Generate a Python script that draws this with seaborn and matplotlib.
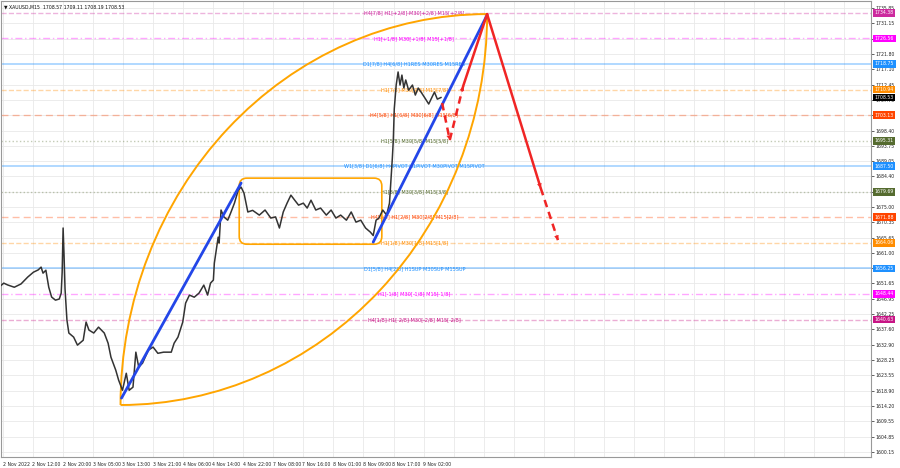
import matplotlib
matplotlib.use("Agg")
import matplotlib.pyplot as plt
import matplotlib.transforms as mtransforms
from matplotlib.patches import Arc, FancyBboxPatch
import pandas as pd
import seaborn as sns

# XAUUSD M15 closes (x = bar index from the left edge)
bar_idx = [0, 3, 7, 14, 21, 28, 34, 39, 42, 44, 47, 50, 53, 57, 61, 63, 64, 65, 66, 67,
           69, 71, 76, 80, 86, 89, 92, 97, 102, 108, 112, 115, 120, 123, 127, 131, 134, 138,
           141, 144, 148, 154, 159, 164, 170, 178, 181, 185, 190, 193, 197, 202, 207, 212,
           216, 219, 222, 223, 227, 228, 230, 233, 237, 240, 244, 248, 251, 254, 258, 263,
           270, 276, 282, 287, 291, 295, 299, 303, 307, 311, 316, 320, 324, 329, 334, 340,
           345, 350, 355, 361, 366, 371, 376, 381, 386, 389, 392, 395, 399, 403, 406, 409,
           410, 411, 413, 415, 417, 419, 421, 423, 426, 430, 433, 436, 439, 443, 447, 450,
           453, 456, 460]
close = [1651.0, 1651.75, 1651.2, 1650.5, 1651.5, 1653.6, 1655.1, 1655.8, 1656.65, 1654.8,
         1655.7, 1650.5, 1647.5, 1646.55, 1646.9, 1648.7, 1655.0, 1668.6, 1660.0, 1650.0,
         1640.45, 1636.5, 1635.25, 1632.8, 1634.3, 1639.85, 1637.4, 1636.5, 1638.3, 1636.5,
         1633.4, 1629.1, 1625.15, 1622.1, 1619.0, 1624.2, 1619.0, 1619.95, 1630.65, 1626.1,
         1627.3, 1631.25, 1632.2, 1630.3, 1630.65, 1630.65, 1633.4, 1635.25, 1639.85, 1645.65,
         1648.1, 1647.45, 1648.7, 1651.15, 1648.1, 1651.75, 1652.7, 1657.85, 1665.8, 1664.0,
         1674.1, 1672.0, 1671.0, 1673.15, 1676.2, 1680.2, 1681.1, 1679.25, 1673.5, 1674.0,
         1672.55, 1674.1, 1671.65, 1672.0, 1668.6, 1673.5, 1676.2, 1678.65, 1677.1, 1675.6,
         1676.2, 1674.7, 1677.1, 1674.1, 1674.7, 1672.55, 1674.1, 1671.65, 1672.55, 1671.0,
         1673.5, 1670.4, 1671.0, 1668.6, 1667.35, 1666.3, 1671.0, 1671.65, 1674.1, 1672.55,
         1676.2, 1690.0, 1695.5, 1705.0, 1712.3, 1716.3, 1712.3, 1715.35, 1711.4, 1713.85,
         1710.75, 1712.3, 1709.25, 1711.4, 1710.15, 1708.35, 1706.5, 1708.35, 1710.15, 1708.0,
         1708.53]

# Murrey math levels
level_price = [1734.38, 1726.56, 1718.75, 1710.94, 1703.13, 1695.31, 1687.50,
               1679.69, 1671.88, 1664.06, 1656.25, 1648.44, 1640.63]
level_text = [
    "H4[7/8] H1[+2/8] M30[+2/8] M15[+2/8]",
    "H1[+1/8] M30[+1/8] M15[+1/8]",
    "D1[7/8] H4[6/8] H1RES M30RES M15RES",
    "H1[7/8] M30[7/8] M15[7/8]",
    "H4[5/8] H1[6/8] M30[6/8] M15[6/8]",
    "H1[5/8] M30[5/8] M15[5/8]",
    "W1[3/8] D1[6/8] H4PIVOT H1PIVOT M30PIVOT M15PIVOT",
    "H1[3/8] M30[3/8] M15[3/8]",
    "H4[3/8] H1[2/8] M30[2/8] M15[2/8]",
    "H1[1/8] M30[1/8] M15[1/8]",
    "D1[5/8] H4[2/8] H1SUP M30SUP M15SUP",
    "H1[-1/8] M30[-1/8] M15[-1/8]",
    "H4[1/8] H1[-2/8] M30[-2/8] M15[-2/8]",
]
level_color = ["#CC2A9E", "#FF00FF", "#1E90FF", "#FF8C00", "#FF4500", "#556B2F", "#1E90FF",
               "#556B2F", "#FF4500", "#FF8C00", "#1E90FF", "#FF00FF", "#C71585"]
last_price = 1708.53

# drawn objects (bar index, price)
trend1_bar = [126, 251]
trend1_price = [1616.6, 1682.35]
trend2_bar = [389, 508]
trend2_price = [1664.3, 1733.7]
path_bar = [461, 469, 483, 508, 564, 582]
path_price = [1706.8, 1695.5, 1712.0, 1734.0, 1680.8, 1664.9]
path_dashed = [True, True, False, False, True]
path_head = [True, True, False, True, True]
box_bar = [249, 398]
box_price = [1663.65, 1683.85]
arc_start = (125, 1614.5)
arc_apex = (508, 1734.0)

y_ticks = [1735.85, 1731.15, 1726.50, 1721.80, 1717.10, 1712.45, 1707.75, 1703.05,
           1698.40, 1693.75, 1689.05, 1684.40, 1679.70, 1675.00, 1670.35, 1665.65,
           1661.00, 1656.30, 1651.65, 1646.95, 1642.25, 1637.60, 1632.90, 1628.25,
           1623.55, 1618.90, 1614.20, 1609.55, 1604.85, 1600.15]
x_tick_pos = [2, 33, 65, 96, 127, 159, 190, 221, 253, 284, 315, 347, 378, 409, 441]
x_tick_lab = ["2 Nov 2022", "2 Nov 12:00", "2 Nov 20:00", "3 Nov 05:00", "3 Nov 13:00",
              "3 Nov 21:00", "4 Nov 06:00", "4 Nov 14:00", "4 Nov 22:00", "7 Nov 08:00",
              "7 Nov 16:00", "8 Nov 01:00", "8 Nov 09:00", "8 Nov 17:00", "9 Nov 02:00"]

sns.set_style("white")
plt.rcParams["font.family"] = ["DejaVu Sans"]
FS = 3.3

fig = plt.figure(figsize=(9, 4.68), dpi=100)
ax = fig.add_axes([0.001, 11 / 468, 870 / 900, 456 / 468])
ax.set_xlim(0, 909)
ax.set_ylim(1598.6, 1738.0)

# grid
for p in y_ticks:
    ax.axhline(p, color="#e9e9e9", lw=0.6, zorder=0)
for k in range(0, 30):
    ax.axvline(x_tick_pos[0] + k * 31.4, color="#e9e9e9", lw=0.6, zorder=0)

# level lines + labels
line_style = {
    "#CC2A9E": ("--", 1.0), "#FF00FF": ((0, (5, 2, 1, 2)), 1.0), "#1E90FF": ("-", 1.4),
    "#FF8C00": ("--", 1.0), "#FF4500": ((0, (5, 3)), 1.0), "#556B2F": (":", 1.0),
    "#C71585": ("--", 1.0),
}
label_x = 432
for p, txt, c in zip(level_price, level_text, level_color):
    ls, lw = line_style[c]
    ax.axhline(p, color=c, alpha=0.35, ls=ls, lw=lw, zorder=1)
    ax.text(label_x, p, txt, color=c, fontsize=FS + 0.3, ha="center", va="center", zorder=2)

# orange arcs and range box
w = 2 * (arc_apex[0] - arc_start[0])
h = 2 * (arc_apex[1] - arc_start[1])
ax.add_patch(Arc((arc_apex[0], arc_start[1]), w, h, theta1=90, theta2=180,
                 color="#FFA500", lw=1.4, zorder=3))
ax.add_patch(Arc((arc_start[0], arc_apex[1]), w, h, theta1=270, theta2=360,
                 color="#FFA500", lw=1.4, zorder=3))
ax.add_patch(FancyBboxPatch((box_bar[0], box_price[0]), box_bar[1] - box_bar[0],
                            box_price[1] - box_price[0],
                            boxstyle="round,pad=0,rounding_size=8", mutation_aspect=0.3,
                            fc="none", ec="#FFA500", lw=1.2, zorder=3))

# price
df = pd.DataFrame({"bar": bar_idx, "close": close})
sns.lineplot(data=df, x="bar", y="close", color="#333333", lw=1.1, ax=ax, zorder=4)

# trend lines
ax.plot(trend1_bar, trend1_price, color="#2346E8", lw=2.0, zorder=5)
ax.plot(trend2_bar, trend2_price, color="#2346E8", lw=2.0, zorder=5)

# projected path
for i in range(len(path_bar) - 1):
    x0, x1 = path_bar[i], path_bar[i + 1]
    y0, y1 = path_price[i], path_price[i + 1]
    ax.plot([x0, x1], [y0, y1], color="#F02525", lw=1.8,
            ls=(0, (3, 2)) if path_dashed[i] else "-", zorder=6)
    if path_head[i]:
        ax.annotate("", xy=(x1, y1), xytext=(x1 - 0.25 * (x1 - x0), y1 - 0.25 * (y1 - y0)),
                    arrowprops=dict(arrowstyle="-|>", color="#F02525", lw=0.1,
                                    mutation_scale=8, shrinkA=0, shrinkB=0), zorder=6)

# axes styling
ax.yaxis.tick_right()
ax.set_yticks(y_ticks)
ax.set_yticklabels([f"{v:.2f}" for v in y_ticks], fontsize=FS)
ax.set_xticks(x_tick_pos)
ax.set_xticklabels(x_tick_lab, fontsize=FS, ha="left")
ax.tick_params(axis="both", length=2, width=0.5, pad=1.5, colors="#222222")
ax.set_xlabel("")
ax.set_ylabel("")
for s in ax.spines.values():
    s.set_color("#999999")
    s.set_linewidth(0.8)

# right-side price boxes
trans = mtransforms.blended_transform_factory(ax.transAxes, ax.transData)
for p, c in zip(level_price, level_color):
    ax.text(1.0045, p, f"{p:.2f}", transform=trans, fontsize=FS, color="white",
            ha="left", va="center", zorder=10, clip_on=False,
            bbox=dict(boxstyle="square,pad=0.3", fc=c, ec="none"))
ax.text(1.0045, last_price, f"{last_price:.2f}", transform=trans, fontsize=FS, color="white",
        ha="left", va="center", zorder=10, clip_on=False,
        bbox=dict(boxstyle="square,pad=0.3", fc="black", ec="none"))

ax.text(0.003, 0.993, "\u25bc XAUUSD,M15  1708.57 1709.11 1708.19 1708.53",
        transform=ax.transAxes, fontsize=FS, ha="left", va="top", color="#111111")

fig.savefig("out.png", dpi=100)
